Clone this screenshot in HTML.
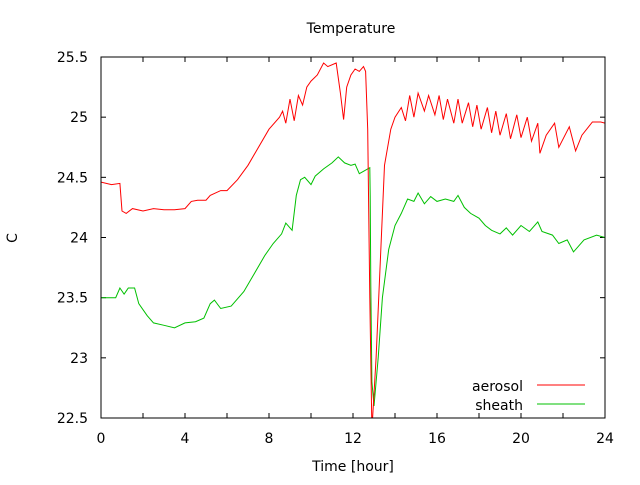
<!DOCTYPE html>
<html><head><meta charset="utf-8"><style>
body{margin:0;background:#fff;}
svg text{font-family:"DejaVu Sans","Liberation Sans",sans-serif;font-size:14px;fill:#000;}
</style></head><body>
<svg id="chart" width="640" height="480" xmlns="http://www.w3.org/2000/svg">
<defs><clipPath id="clip"><rect x="101" y="57" width="504" height="361"/></clipPath></defs>
<text x="351" y="33" text-anchor="middle">Temperature</text>
<text x="353" y="471" text-anchor="middle">Time [hour]</text>
<text x="17" y="238" text-anchor="middle" transform="rotate(-90 17 238)">C</text>
<g id="axes"></g>
<g id="series" clip-path="url(#clip)"></g>
<rect x="101" y="57" width="504" height="361" fill="none" stroke="#000" stroke-width="1"/>
<g>
<text x="523" y="391" text-anchor="end">aerosol</text>
<line x1="537" y1="385" x2="585" y2="385" stroke="#ff0000"/>
<text x="523" y="410" text-anchor="end">sheath</text>
<line x1="537" y1="404" x2="585" y2="404" stroke="#00c000"/>
</g>
</svg>
<script>
const xTicks=[0,2,4,6,8,10,12,14,16,18,20,22,24];
const xTickLabels=["0","","4","","8","","12","","16","","20","","24"];
const yTicks=[22.5,23,23.5,24,24.5,25,25.5];
const yTickLabels=["22.5","23","23.5","24","24.5","25","25.5"];
const aerosolHours=[0,0.5,0.9,1.0,1.2,1.5,2,2.5,3,3.5,4,4.3,4.6,5,5.2,5.7,6,6.5,7,7.5,8,8.5,8.65,8.8,9.0,9.2,9.4,9.6,9.8,10,10.3,10.6,10.8,11.2,11.4,11.55,11.7,11.9,12.1,12.3,12.5,12.6,12.7,12.8,12.9,13.1,13.3,13.5,13.8,14,14.3,14.5,14.7,14.9,15.1,15.4,15.6,15.9,16.1,16.3,16.5,16.8,17.0,17.2,17.5,17.7,17.9,18.1,18.4,18.6,18.8,19.0,19.3,19.5,19.8,20.0,20.3,20.5,20.8,20.9,21.2,21.6,21.8,22.3,22.6,22.9,23.4,23.8,24];
const aerosolTemp=[24.46,24.44,24.45,24.22,24.2,24.24,24.22,24.24,24.23,24.23,24.24,24.3,24.31,24.31,24.35,24.39,24.39,24.48,24.6,24.75,24.9,25.0,25.05,24.95,25.15,24.97,25.18,25.1,25.25,25.3,25.35,25.45,25.42,25.45,25.2,24.98,25.25,25.35,25.4,25.38,25.42,25.38,24.9,23.5,22.4,23.0,23.8,24.6,24.9,25.0,25.08,24.97,25.18,25.0,25.2,25.05,25.18,25.02,25.18,24.98,25.15,24.95,25.15,24.95,25.12,24.92,25.1,24.9,25.08,24.87,25.05,24.85,25.03,24.82,25.02,24.83,25.0,24.8,24.95,24.7,24.85,24.95,24.75,24.92,24.72,24.85,24.96,24.96,24.95];
const sheathHours=[0,0.7,0.9,1.1,1.3,1.6,1.8,2.2,2.5,3,3.5,4,4.5,4.9,5.2,5.4,5.7,6.2,6.8,7.3,7.8,8.2,8.6,8.8,9.1,9.3,9.5,9.7,10,10.2,10.6,11,11.3,11.6,11.9,12.1,12.3,12.5,12.8,12.82,12.85,12.9,13.0,13.2,13.4,13.7,14,14.3,14.6,14.9,15.1,15.4,15.7,16,16.4,16.8,17,17.3,17.6,18,18.3,18.6,19,19.3,19.6,20,20.4,20.8,21,21.5,21.8,22.2,22.5,23,23.6,24];
const sheathTemp=[23.5,23.5,23.58,23.53,23.58,23.58,23.45,23.35,23.29,23.27,23.25,23.29,23.3,23.33,23.45,23.48,23.41,23.43,23.55,23.7,23.85,23.95,24.03,24.12,24.06,24.35,24.48,24.5,24.44,24.51,24.57,24.62,24.67,24.62,24.6,24.61,24.53,24.55,24.58,24.35,23.6,22.8,22.6,23.0,23.5,23.9,24.1,24.2,24.32,24.3,24.37,24.28,24.34,24.3,24.32,24.3,24.35,24.25,24.2,24.16,24.1,24.06,24.03,24.08,24.02,24.1,24.05,24.13,24.05,24.02,23.95,23.98,23.88,23.98,24.02,24.0];

const NS="http://www.w3.org/2000/svg";
const L=101,R=605,T=57,B=418;
function xs(h){return L+(h-0)/(24-0)*(R-L);}
function ys(v){return B-(v-22.5)/(25.5-22.5)*(B-T);}
const axes=document.getElementById('axes');
xTicks.forEach((t,i)=>{
  const x=xs(t);
  for(const [a,b] of [[B,B-5],[T,T+5]]){
    const ln=document.createElementNS(NS,'line');
    
    
    ln.setAttribute('x1',x);ln.setAttribute('x2',x);ln.setAttribute('y1',a);ln.setAttribute('y2',b);
    ln.setAttribute('stroke','#000');axes.appendChild(ln);
  }
  if(xTickLabels[i]){
    const tx=document.createElementNS(NS,'text');
    
    
    tx.setAttribute('x',x);tx.setAttribute('y',443);tx.setAttribute('text-anchor','middle');
    tx.textContent=xTickLabels[i];axes.appendChild(tx);
  }
});
yTicks.forEach((t,i)=>{
  const y=ys(t);
  for(const [a,b] of [[L,L+5],[R,R-5]]){
    const ln=document.createElementNS(NS,'line');
    
    
    ln.setAttribute('x1',a);ln.setAttribute('x2',b);ln.setAttribute('y1',y);ln.setAttribute('y2',y);
    ln.setAttribute('stroke','#000');axes.appendChild(ln);
  }
  const tx=document.createElementNS(NS,'text');
  
  
  tx.setAttribute('x',88);tx.setAttribute('y',y+5);tx.setAttribute('text-anchor','end');
  tx.textContent=yTickLabels[i];axes.appendChild(tx);
});
const series=document.getElementById('series');
function drawLine(hs,vs,color,name){
  const p=document.createElementNS(NS,'polyline');
  
  
  p.setAttribute('points',hs.map((h,i)=>xs(h).toFixed(1)+','+ys(vs[i]).toFixed(1)).join(' '));
  p.setAttribute('fill','none');p.setAttribute('stroke',color);p.setAttribute('stroke-width','1');
  series.appendChild(p);
}
drawLine(sheathHours,sheathTemp,'#00c000','sheath-line');
drawLine(aerosolHours,aerosolTemp,'#ff0000','aerosol-line');
</script>
</body></html>
